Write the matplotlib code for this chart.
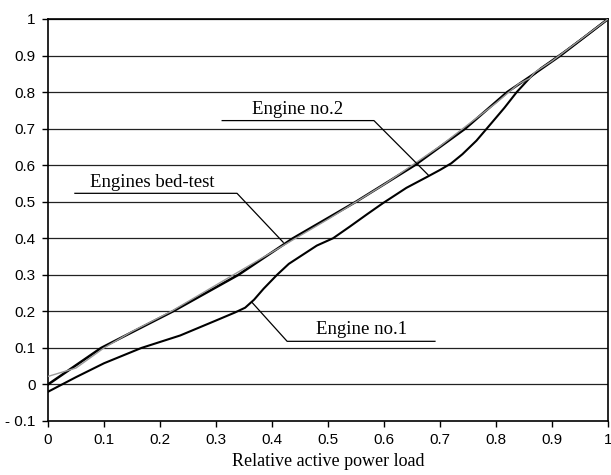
import matplotlib
matplotlib.use("Agg")
import matplotlib.pyplot as plt

# values
eng1_x = [0.0, 0.05, 0.1, 0.167, 0.236, 0.3, 0.334, 0.352, 0.368, 0.385, 0.409,
          0.43, 0.455, 0.48, 0.509, 0.539, 0.57, 0.598, 0.64, 0.677, 0.7, 0.72,
          0.74, 0.765, 0.789, 0.815, 0.837, 0.861, 0.88, 0.92, 0.96, 1.0]
eng1_y = [-0.02, 0.02, 0.058, 0.1, 0.134, 0.175, 0.197, 0.21, 0.232, 0.262, 0.3,
          0.33, 0.355, 0.38, 0.40, 0.432, 0.466, 0.496, 0.538, 0.568, 0.587, 0.605,
          0.63, 0.667, 0.71, 0.757, 0.8, 0.84, 0.865, 0.908, 0.953, 1.0]

eng2_x = [0.0, 0.095, 0.223, 0.34, 0.4375, 0.55, 0.655, 0.745, 0.82, 0.87, 0.915, 1.0]
eng2_y = [0.0, 0.1, 0.2, 0.3, 0.4, 0.5, 0.6, 0.7, 0.8, 0.852, 0.9, 1.0]

bed_x = [0.0, 0.05, 0.1, 0.15, 0.22, 0.3, 0.4, 0.5, 0.6, 0.7, 0.8, 0.84, 0.86,
         0.87, 0.9, 1.0]
bed_y = [0.022, 0.045, 0.1, 0.145, 0.2, 0.272, 0.362, 0.452, 0.547, 0.652, 0.77,
         0.822, 0.838, 0.855, 0.885, 1.0]

x_ticks = [0, 0.1, 0.2, 0.3, 0.4, 0.5, 0.6, 0.7, 0.8, 0.9, 1]
x_labels = ["0", "0.1", "0.2", "0.3", "0.4", "0.5", "0.6", "0.7", "0.8", "0.9", "1"]
y_ticks = [-0.1, 0, 0.1, 0.2, 0.3, 0.4, 0.5, 0.6, 0.7, 0.8, 0.9, 1]
y_labels = ["- 0.1", "0", "0.1", "0.2", "0.3", "0.4", "0.5", "0.6", "0.7", "0.8", "0.9", "1"]

# label text, text position, leader polyline (start of underline, end of underline, tip)
labels = ["Engines bed-test", "Engine no.2", "Engine no.1"]
label_pos = [(0.187, 0.53), (0.445, 0.73), (0.56, 0.126)]
leaders = [
    ([0.048, 0.3375, 0.42], [0.523, 0.523, 0.389]),
    ([0.311, 0.582, 0.679], [0.722, 0.722, 0.573]),
    ([0.691, 0.427, 0.364], [0.118, 0.118, 0.225]),
]

fig = plt.figure(figsize=(6.11, 4.75), dpi=100)
ax = fig.add_axes([0.0786, 0.1137, 0.9165, 0.8463])

for yv in y_ticks[1:]:
    ax.axhline(yv, color="#222222", lw=0.9, zorder=1)

ax.plot(bed_x, bed_y, color="#999999", lw=1.0, zorder=3)
ax.plot(eng2_x, eng2_y, color="black", lw=1.8, zorder=2)
ax.plot(eng1_x, eng1_y, color="black", lw=1.5, zorder=2)

for (lx, ly), txt, (px, py) in zip(label_pos, labels, leaders):
    ax.plot(px, py, color="black", lw=0.9, zorder=4)
    ax.text(lx, ly, txt, family="Liberation Serif", fontsize=13.5,
            ha="center", va="bottom")

ax.set_xlim(0, 1)
ax.set_ylim(-0.1, 1)
ax.set_xticks(x_ticks)
ax.set_xticklabels(x_labels, family="Liberation Sans", fontsize=11)
ax.set_yticks(y_ticks)
ax.set_yticklabels(y_labels, family="Liberation Sans", fontsize=11)
ax.tick_params(length=4, width=1, pad=5)
ax.set_xlabel("Relative active power load", family="Liberation Serif",
              fontsize=13, labelpad=4)
for s in ax.spines.values():
    s.set_linewidth(1.2)

fig.savefig("out.png", dpi=100)
